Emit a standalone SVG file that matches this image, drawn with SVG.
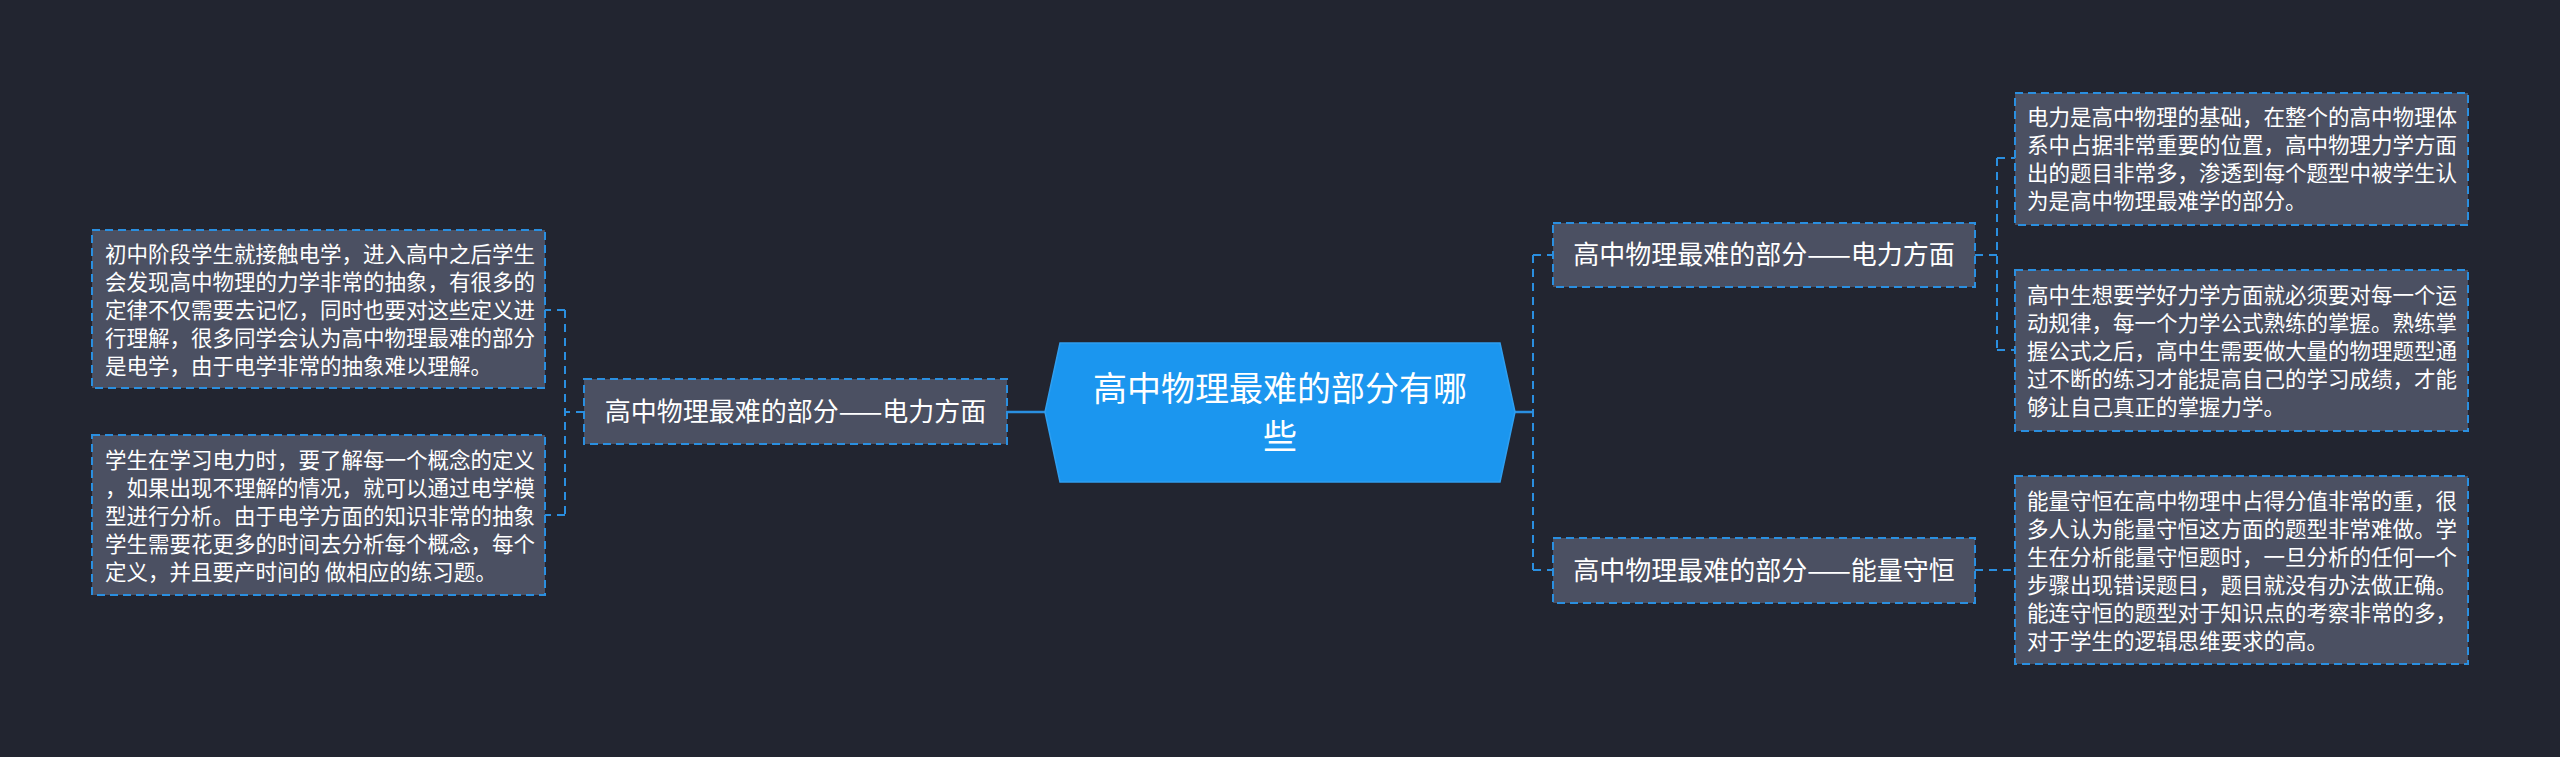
<svg xmlns="http://www.w3.org/2000/svg" width="2560" height="757" viewBox="0 0 2560 757">
<style>
.bg{fill:#222530}
.node{fill:#4b5062;stroke:#2a8fe0;stroke-width:2;stroke-dasharray:8 5}
.c{fill:none;stroke:#2a8fe0;stroke-width:2;stroke-dasharray:8 6}
.s{fill:none;stroke:#2a8fe0;stroke-width:2.5}
text{font-family:"Noto Sans CJK SC","Noto Sans",sans-serif;fill:#ffffff}
.t1{font-size:26px;text-anchor:middle}
.t2{font-size:21.5px}
.t0{font-size:34px;text-anchor:middle}
</style>
<rect class="bg" x="0" y="0" width="2560" height="757"/>
<g id="connectors">
<path class="s" d="M1045 412 L1007 412"/>
<path class="c" d="M584 412 L565 412 M565 310 L565 515 M565 310 L545 310 M565 515 L545 515"/>
<path class="s" d="M1515 412 L1533 412"/>
<path class="c" d="M1533 255 L1533 570 M1533 255 L1553 255 M1533 570 L1553 570"/>
<path class="c" d="M1975 255 L1997 255 M1997 158 L1997 350 M1997 158 L2015 158 M1997 350 L2015 350"/>
<path class="c" d="M1975 570 L2015 570"/>
</g>
<g id="central">
<polygon points="1060,343 1500,343 1515,412 1500,482 1060,482 1045,412" fill="#1b96ef" stroke="#2f9ff0" stroke-width="1.5"/>
<text class="t0" x="1280" y="401">高中物理最难的部分有哪</text>
<text class="t0" x="1280" y="449">些</text>
</g>
<g id="left-main">
<rect class="node" x="584" y="379" width="423" height="65"/>
<text class="t1" x="795.5" y="421">高中物理最难的部分——电力方面</text>
</g>
<g id="left-leaf1">
<rect class="node" x="92" y="230" width="453" height="158"/>
<text class="t2" x="105" y="262">初中阶段学生就接触电学，进入高中之后学生</text>
<text class="t2" x="105" y="290">会发现高中物理的力学非常的抽象，有很多的</text>
<text class="t2" x="105" y="318">定律不仅需要去记忆，同时也要对这些定义进</text>
<text class="t2" x="105" y="346">行理解，很多同学会认为高中物理最难的部分</text>
<text class="t2" x="105" y="374">是电学，由于电学非常的抽象难以理解。</text>
</g>
<g id="left-leaf2">
<rect class="node" x="92" y="435" width="453" height="160"/>
<text class="t2" x="105" y="468">学生在学习电力时，要了解每一个概念的定义</text>
<text class="t2" x="105" y="496">，如果出现不理解的情况，就可以通过电学模</text>
<text class="t2" x="105" y="524">型进行分析。由于电学方面的知识非常的抽象</text>
<text class="t2" x="105" y="552">学生需要花更多的时间去分析每个概念，每个</text>
<text class="t2" x="105" y="580">定义，并且要产时间的 做相应的练习题。</text>
</g>
<g id="right-main1">
<rect class="node" x="1553" y="223" width="422" height="64"/>
<text class="t1" x="1764" y="264">高中物理最难的部分——电力方面</text>
</g>
<g id="right-main2">
<rect class="node" x="1553" y="538" width="422" height="65"/>
<text class="t1" x="1764" y="580">高中物理最难的部分——能量守恒</text>
</g>
<g id="right-leaf1">
<rect class="node" x="2015" y="93" width="453" height="132"/>
<text class="t2" x="2027" y="125">电力是高中物理的基础，在整个的高中物理体</text>
<text class="t2" x="2027" y="153">系中占据非常重要的位置，高中物理力学方面</text>
<text class="t2" x="2027" y="181">出的题目非常多，渗透到每个题型中被学生认</text>
<text class="t2" x="2027" y="209">为是高中物理最难学的部分。</text>
</g>
<g id="right-leaf2">
<rect class="node" x="2015" y="270" width="453" height="161"/>
<text class="t2" x="2027" y="303">高中生想要学好力学方面就必须要对每一个运</text>
<text class="t2" x="2027" y="331">动规律，每一个力学公式熟练的掌握。熟练掌</text>
<text class="t2" x="2027" y="359">握公式之后，高中生需要做大量的物理题型通</text>
<text class="t2" x="2027" y="387">过不断的练习才能提高自己的学习成绩，才能</text>
<text class="t2" x="2027" y="415">够让自己真正的掌握力学。</text>
</g>
<g id="right-leaf3">
<rect class="node" x="2015" y="476" width="453" height="188"/>
<text class="t2" x="2027" y="509">能量守恒在高中物理中占得分值非常的重，很</text>
<text class="t2" x="2027" y="537">多人认为能量守恒这方面的题型非常难做。学</text>
<text class="t2" x="2027" y="565">生在分析能量守恒题时，一旦分析的任何一个</text>
<text class="t2" x="2027" y="593">步骤出现错误题目，题目就没有办法做正确。</text>
<text class="t2" x="2027" y="621">能连守恒的题型对于知识点的考察非常的多，</text>
<text class="t2" x="2027" y="649">对于学生的逻辑思维要求的高。</text>
</g>
</svg>
